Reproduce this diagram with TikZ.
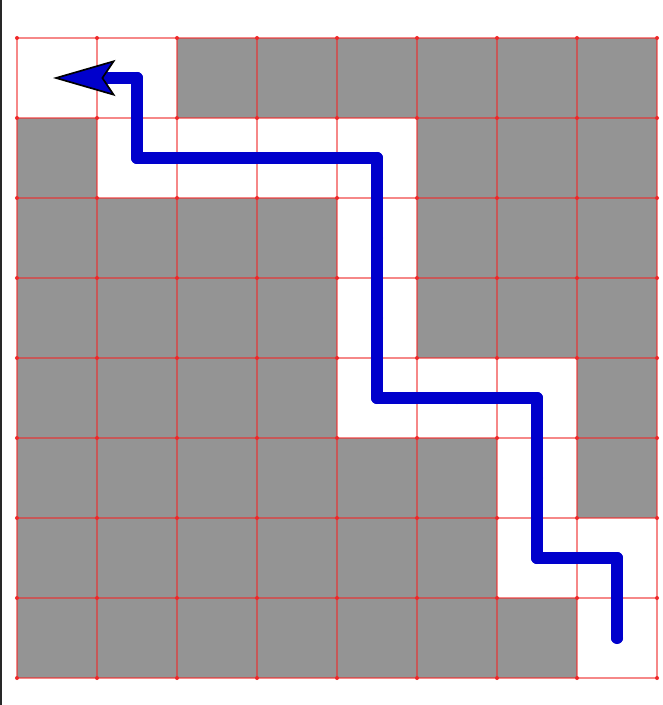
\documentclass[tikz,border=0pt]{standalone}
\usepackage{tikz}
\usetikzlibrary{arrows.meta, calc}
\usepackage{xcolor}
\definecolor{wallgray}{RGB}{148,148,148}
\definecolor{pathblue}{RGB}{0,0,204}
\definecolor{gridred}{RGB}{240,40,40}
\definecolor{edgedark}{RGB}{40,40,40}
\tikzset{
  % Maze cells
  wallcell/.style={fill=wallgray},
  opencell/.style={fill=white},
  gridline/.style={draw=gridred, line width=0.6pt, opacity=0.55},
  griddot/.style={fill=gridred},
  % Solution path
  solpath/.style={draw=pathblue, line width=4pt, line cap=round, line join=round,
    -{Stealth[length=0.78cm, width=0.45cm, inset=0.15cm, color=black, fill=pathblue, line width=0.6pt]}},
  pathdot/.style={fill=pathblue}
}

\begin{document}
\begin{tikzpicture}
  % Frame of the page
  \useasboundingbox[fill=white] (-0.2125,0.475) rectangle (8.0625,-8.3375);
  \fill[edgedark] (-0.2125,0.475) rectangle (-0.19,-8.3375);

  % Cells: all walls first, then the open corridor
  \fill[wallcell] (0,0) rectangle (8,-8);
  \foreach \cx/\cy in {0/0,1/0,1/1,2/1,3/1,4/1,4/2,4/3,4/4,5/4,6/4,6/5,6/6,7/6,7/7}
    \fill[opencell] (\cx,-\cy) rectangle ++(1,-1);

  % Grid lines and corner dots
  \foreach \i in {0,...,8} {
    \draw[gridline] (\i,0) -- (\i,-8);
    \draw[gridline] (0,-\i) -- (8,-\i);
  }
  \foreach \i in {0,...,8}
    \foreach \j in {0,...,8}
      \fill[griddot] (\i,-\j) circle (0.025);

  % Cell centres
  \foreach \cx in {0,...,7}
    \foreach \cy in {0,...,7}
      \coordinate (c-\cx-\cy) at (\cx+0.5,-\cy-0.5);

  % Path from exit to start
  \draw[solpath] (c-7-7) -- (c-7-6) -- (c-6-6) -- (c-6-4) -- (c-4-4)
    -- (c-4-1) -- (c-1-1) -- (c-1-0) -- ($(c-0-0)+(-0.05,0)$);
  \foreach \cx/\cy in {7/7,7/6,6/6,6/5,6/4,5/4,4/4,4/3,4/2,4/1,3/1,2/1,1/1,1/0}
    \fill[pathdot] (c-\cx-\cy) circle (0.075);
\end{tikzpicture}
\end{document}
